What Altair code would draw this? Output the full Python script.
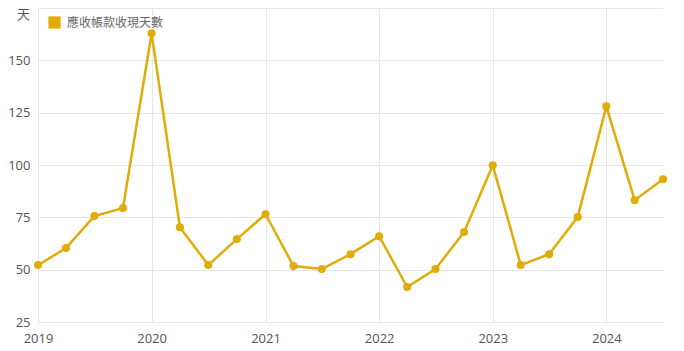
import altair as alt
import pandas as pd

quarters = ["2019-01-01","2019-04-01","2019-07-01","2019-10-01",
            "2020-01-01","2020-04-01","2020-07-01","2020-10-01",
            "2021-01-01","2021-04-01","2021-07-01","2021-10-01",
            "2022-01-01","2022-04-01","2022-07-01","2022-10-01",
            "2023-01-01","2023-04-01","2023-07-01","2023-10-01",
            "2024-01-01","2024-04-01","2024-07-01"]
days = [52.2, 60.3, 75.6, 79.4,
        162.9, 70.3, 52.2, 64.6,
        76.5, 51.7, 50.3, 57.4,
        66.0, 41.7, 50.3, 68.0,
        99.9, 52.2, 57.4, 75.1,
        128.0, 83.2, 93.2]
series_name = "應收帳款收現天數"
y_ticks = [25, 50, 75, 100, 125, 150, 175]

df = pd.DataFrame({"date": quarters, "value": days, "series": series_name})

font = "Noto Sans CJK TC"
numfont = "Open Sans"
color = "#E0AC08"

base = alt.Chart(df).encode(
    x=alt.X("date:T",
            scale=alt.Scale(domain=["2019-01-01", "2024-07-01"], nice=False),
            axis=alt.Axis(title=None, format="%Y", tickCount={"interval": "year", "step": 1},
                          domain=False, ticks=False, labelFontSize=13, labelColor="#555555",
                          labelFont=numfont, labelPadding=10, gridColor="#e6e6e6",
                          labelFlush=False)),
    y=alt.Y("value:Q",
            scale=alt.Scale(domain=[25, 175], nice=False, zero=False),
            axis=alt.Axis(values=y_ticks, title="天", titleAngle=0, titleX=-15, titleY=6,
                          titleAlign="center", titleBaseline="middle", titleFontSize=13,
                          titleFontWeight="normal", titleColor="#555555", titleFont=font,
                          domain=False, ticks=False, labelFontSize=13, labelColor="#555555",
                          labelFont=numfont, labelPadding=8, gridColor="#e6e6e6",
                          labelExpr="datum.value == 175 ? '' : datum.label")),
    color=alt.Color("series:N", scale=alt.Scale(range=[color]),
                    legend=alt.Legend(title=None, orient="none", legendX=10, legendY=8,
                                      symbolType="square", symbolSize=150,
                                      symbolStrokeWidth=0, labelFontSize=12,
                                      labelColor="#666666", labelFont=font,
                                      labelOffset=6, fillColor="white")),
)

line = base.mark_line(strokeWidth=2.5)
pts = base.mark_point(filled=True, size=65, opacity=1)

chart = alt.layer(line, pts).properties(
    width=625, height=314,
    autosize=alt.AutoSizeParams(type="none"),
    padding={"left": 38, "top": 8, "right": 21, "bottom": 29},
).configure_view(stroke=None)

chart.save("out.html", embed_options={"renderer": "svg", "actions": False})
